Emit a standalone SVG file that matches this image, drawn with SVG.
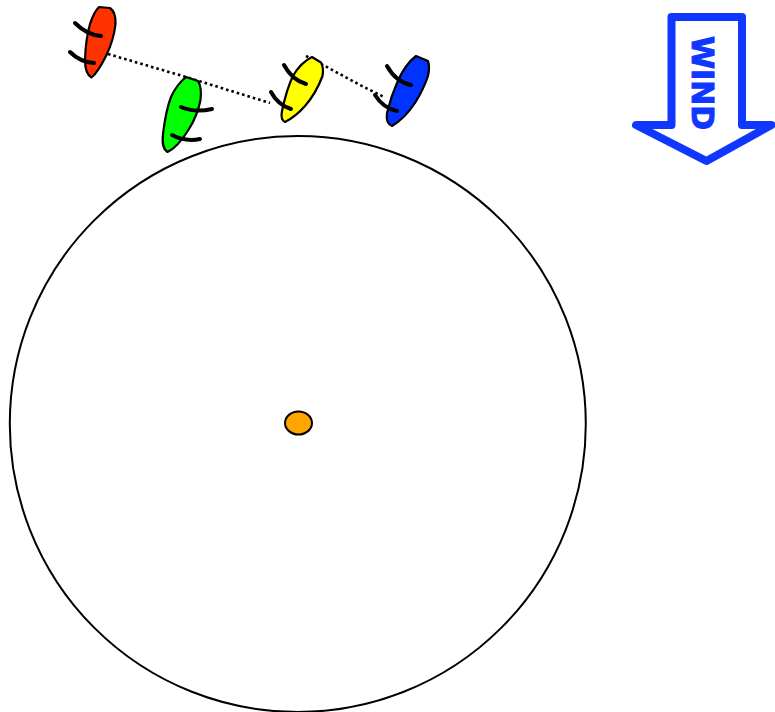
<svg xmlns="http://www.w3.org/2000/svg" width="775" height="712" viewBox="0 0 775 712">
<style>
.hull{stroke:#000;stroke-width:2.200;stroke-linejoin:round}
.oar{fill:none;stroke:#000;stroke-width:4;stroke-linecap:round}
.rope{fill:none;stroke:#000;stroke-width:2.600;stroke-dasharray:2.600 3}
</style>
<rect width="775" height="712" fill="#fff"/>
<g id="connectors">
<path class="rope" d="M108 54L186 77L270 103"/>
<path class="rope" d="M306 56L325 66L360 85L384 97"/>
</g>
<g id="pond"><circle cx="297.800" cy="424" r="288" fill="none" stroke="#000" stroke-width="2"/></g>
<g id="center"><ellipse cx="298.500" cy="423" rx="13.500" ry="11.500" fill="#ffa500" stroke="#000" stroke-width="2"/></g>
<g id="boat-red">
<path class="hull" fill="#ff3300" d="M99 7L110 8Q116 12 115.500 24C114 38 110 48 106 56C101 66 96 74 91.500 77.500C87 75 85 69 85 60C85.500 46 87 34 90 24C92.500 16 95 11 99 7Z"/>
<path class="oar" d="M75 23Q87 35 101 36"/>
<path class="oar" d="M70 52Q80 62 94 63"/>
</g>
<g id="boat-green">
<path class="hull" fill="#00ff00" d="M186 77L198 81Q202 87 200.500 100C198 113 194 121 189 129C181 142 174 149 167.500 152C163 149 162 144 163 134C165 118 167 107 171 97C175 88 180 82 186 77Z"/>
<path class="oar" d="M181 107Q195 113 212 109"/>
<path class="oar" d="M172 135Q185 142 200 139"/>
</g>
<g id="boat-yellow">
<path class="hull" fill="#ffff00" d="M312 57L321 62.500Q324 68 322.500 76C318 88 312 98 305 106C298 114 291 119 285 122C281 120 281 116 282 111C285 97 288 86 293 76C298 67 304 61 312 57Z"/>
<path class="oar" d="M284 65Q292 80 306 84"/>
<path class="oar" d="M271 92Q278 105 291 109"/>
</g>
<g id="boat-blue">
<path class="hull" fill="#0033ff" d="M416 56L428 61Q430 67 428 76C424 88 420 95 415 103C407 115 399 122 392 126C387 124 386 120 387 113C390 100 393 92 397 83C402 71 408 62 416 56Z"/>
<path class="oar" d="M387 66Q396 82 411 85"/>
<path class="oar" d="M375 95Q383 108 397 111"/>
</g>
<g id="wind">
<path d="M671.500 17H742V125H771.500L706.500 161L636 125H671.500Z" fill="#fff" stroke="#0f37ff" stroke-width="8" stroke-linejoin="round"/>
<text transform="translate(691.500 36) rotate(90)" font-family="'DejaVu Sans',sans-serif" font-weight="700" font-size="30" fill="#0f37ff" stroke="#0f37ff" stroke-width="1">WIND</text>
</g>
</svg>
